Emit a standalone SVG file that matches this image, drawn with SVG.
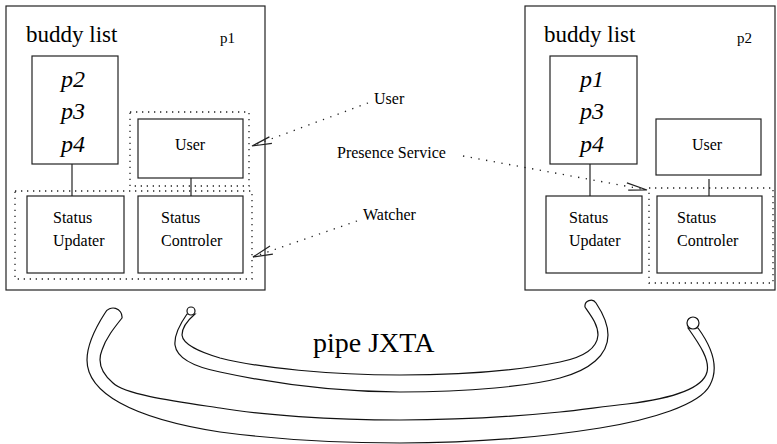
<svg xmlns="http://www.w3.org/2000/svg" width="777" height="444" viewBox="0 0 777 444">
<g id="peer1">
<rect fill="none" stroke="#222" stroke-width="1.2" x="6" y="6" width="259" height="284"/>
<text font-family="Liberation Serif" font-size="23" x="26" y="42">buddy list</text>
<text font-family="Liberation Serif" font-size="15" x="220" y="43">p1</text>
</g>
<g id="buddies1">
<rect fill="none" stroke="#222" stroke-width="1.2" x="32" y="56" width="86" height="108"/>
<text font-family="Liberation Serif" font-size="24" font-style="italic" text-anchor="middle" x="73" y="87">p2</text>
<text font-family="Liberation Serif" font-size="24" font-style="italic" text-anchor="middle" x="73" y="119">p3</text>
<text font-family="Liberation Serif" font-size="24" font-style="italic" text-anchor="middle" x="73" y="152">p4</text>
</g>
<g id="user-group1">
<rect fill="none" stroke="#222" stroke-width="1.3" stroke-dasharray="1.3 4.7" x="130" y="112" width="119" height="74"/>
</g>
<g id="user1">
<rect fill="none" stroke="#222" stroke-width="1.2" x="138" y="119" width="105" height="59"/>
<text font-family="Liberation Serif" font-size="16" text-anchor="middle" x="190" y="150">User</text>
</g>
<g id="watcher-group1">
<rect fill="none" stroke="#222" stroke-width="1.3" stroke-dasharray="1.3 4.7" x="15" y="191" width="237" height="88"/>
</g>
<g id="updater1">
<rect fill="none" stroke="#222" stroke-width="1.2" x="27" y="196" width="97" height="77"/>
<text font-family="Liberation Serif" font-size="16" x="53" y="223">Status</text>
<text font-family="Liberation Serif" font-size="16" x="53" y="246">Updater</text>
</g>
<g id="controler1">
<rect fill="none" stroke="#222" stroke-width="1.2" x="138" y="196" width="105" height="77"/>
<text font-family="Liberation Serif" font-size="16" x="161" y="223">Status</text>
<text font-family="Liberation Serif" font-size="16" x="161" y="246">Controler</text>
</g>

<g id="peer2">
<rect fill="none" stroke="#222" stroke-width="1.2" x="525" y="6" width="250" height="284"/>
<text font-family="Liberation Serif" font-size="23" x="544" y="42">buddy list</text>
<text font-family="Liberation Serif" font-size="15" x="737" y="43">p2</text>
</g>
<g id="buddies2">
<rect fill="none" stroke="#222" stroke-width="1.2" x="550" y="56" width="87" height="108"/>
<text font-family="Liberation Serif" font-size="24" font-style="italic" text-anchor="middle" x="592" y="87">p1</text>
<text font-family="Liberation Serif" font-size="24" font-style="italic" text-anchor="middle" x="592" y="119">p3</text>
<text font-family="Liberation Serif" font-size="24" font-style="italic" text-anchor="middle" x="592" y="152">p4</text>
</g>
<g id="user2">
<rect fill="none" stroke="#222" stroke-width="1.2" x="656" y="119" width="105" height="56"/>
<text font-family="Liberation Serif" font-size="16" text-anchor="middle" x="707" y="150">User</text>
</g>
<g id="presence-group2">
<rect fill="none" stroke="#222" stroke-width="1.3" stroke-dasharray="1.3 4.7" x="649" y="188" width="124" height="95"/>
</g>
<g id="updater2">
<rect fill="none" stroke="#222" stroke-width="1.2" x="546" y="196" width="96" height="77"/>
<text font-family="Liberation Serif" font-size="16" x="569" y="223">Status</text>
<text font-family="Liberation Serif" font-size="16" x="569" y="246">Updater</text>
</g>
<g id="controler2">
<rect fill="none" stroke="#222" stroke-width="1.2" x="657" y="196" width="105" height="77"/>
<text font-family="Liberation Serif" font-size="16" x="677" y="223">Status</text>
<text font-family="Liberation Serif" font-size="16" x="677" y="246">Controler</text>
</g>

<g id="labels">
<text font-family="Liberation Serif" font-size="16" x="374" y="104">User</text>
<text font-family="Liberation Serif" font-size="16" x="337" y="158">Presence Service</text>
<text font-family="Liberation Serif" font-size="16" x="363" y="220">Watcher</text>
<text font-family="Liberation Serif" font-size="28" x="313" y="352">pipe JXTA</text>
</g>

<g id="connectors" fill="none" stroke="#222">
<g stroke-width="1.2">
<line x1="72" y1="164" x2="72" y2="196"/>
<line x1="191" y1="178" x2="191" y2="196"/>
<line x1="590" y1="164" x2="590" y2="196"/>
<line x1="709" y1="179" x2="709" y2="196"/>
<path d="M 269.4,136.9 L 252,146 L 271.9,143.4"/>
<path d="M 626.9,182.9 L 647,190 L 628.2,190.1"/>
<path d="M 270.0,246.0 L 253,257 L 272.9,254.1"/>
</g>
<g stroke-width="1.3" stroke-dasharray="1.3 6.5">
<path d="M 368,103 L 252,146"/>
<path d="M 463,156 L 647,190"/>
<path d="M 357,221 L 253,257"/>
</g>
</g>

<g id="pipes" fill="#fff" stroke="#111" stroke-width="1.2">
<path d="M 105,313 C 96,327 87,345 87,360 C 87,392 130,418 220,432 C 280,440 340,443 400,443 C 480,443 550,436 600,428 C 650,420 700,405 710,385 C 718,370 714,350 698,328 L 688,328 C 700,345 710,360 707,372 C 702,392 660,400 627,404 C 600,407 580,410 560,412 C 520,416 460,420 400,420 C 330,420 260,415 220,408 C 180,402 125,395 113,383 C 100,372 98,360 102,350 C 106,338 114,328 122,318 A 9,9 0 0 0 105,313 Z"/>
<circle cx="693" cy="323" r="6"/>
<path d="M 187,314 C 180,324 174,335 175,345 C 177,360 200,368 220,372 C 280,385 340,392 400,392 C 470,392 530,386 560,378 C 590,370 608,355 608,335 C 608,323 602,312 596,303 A 6,6 0 0 0 585,307 C 592,317 598,325 598,335 C 597,350 580,358 560,362 C 510,372 460,375 400,375 C 330,375 260,368 220,358 C 200,352 183,345 182,335 C 182,327 188,320 195,314 Z"/>
<circle cx="191" cy="311" r="4"/>
</g>
</svg>
